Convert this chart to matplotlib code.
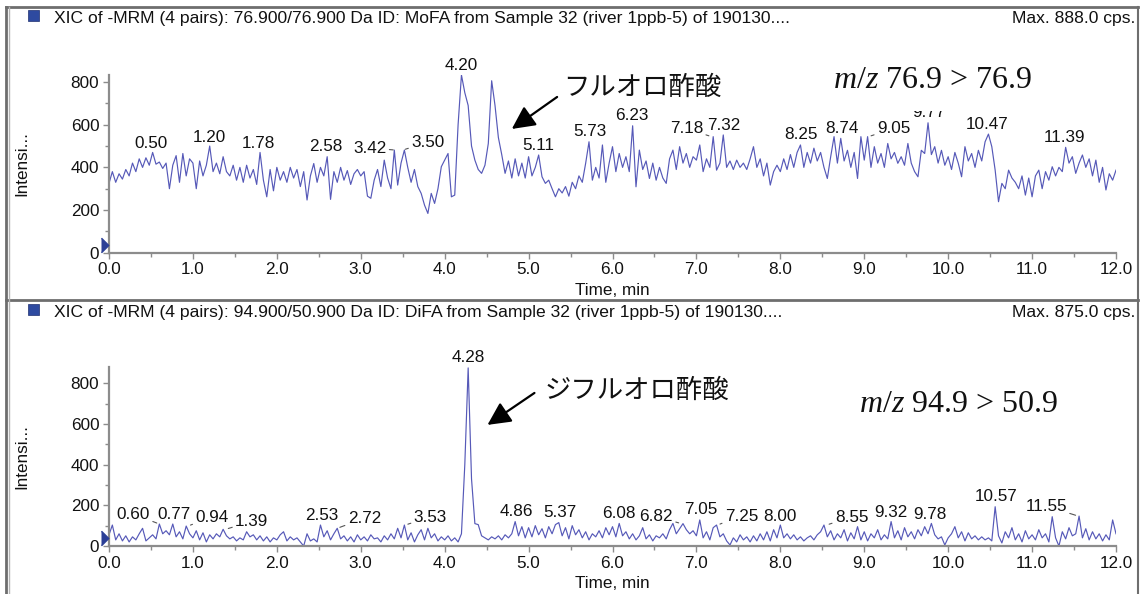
import numpy as np
import matplotlib
matplotlib.use('Agg')
import matplotlib.pyplot as plt
from matplotlib.patches import Rectangle
from matplotlib.lines import Line2D
import matplotlib.transforms as mtransforms

plt.rcParams['font.family'] = ['Liberation Sans', 'DejaVu Sans']
plt.rcParams['mathtext.fontset'] = 'custom'
plt.rcParams['mathtext.rm'] = 'Liberation Serif'
plt.rcParams['mathtext.it'] = 'Liberation Serif:italic'

# ---------------- data ----------------
time_step = 0.04  # min between samples

mofa_intensity = [
    325, 380, 330, 370, 345, 390, 360, 420, 380, 440, 400, 445, 410, 470, 415, 425, 395, 420, 300, 410, 455, 330, 465, 360, 440,
    420, 300, 430, 360, 410, 500, 380, 420, 370, 450, 380, 360, 410, 340, 400, 330, 410, 350, 390, 320, 470, 340, 262, 390, 290,
    400, 340, 380, 330, 400, 350, 390, 310, 380, 247, 360, 418, 330, 400, 360, 450, 250, 380, 330, 400, 340, 385, 320, 370, 390,
    360, 380, 265, 255, 340, 390, 310, 434, 350, 300, 481, 317, 420, 481, 400, 330, 390, 310, 278, 223, 184, 278, 231, 300, 403,
    434, 465, 262, 270, 600, 833, 750, 690, 500, 434, 390, 372, 410, 512, 806, 690, 540, 460, 372, 430, 350, 440, 360, 420, 350,
    450, 360, 400, 458, 356, 325, 340, 300, 262, 300, 280, 310, 265, 330, 300, 360, 330, 419, 520, 340, 400, 350, 505, 330, 420,
    497, 380, 465, 400, 450, 380, 595, 309, 481, 390, 430, 348, 420, 340, 400, 350, 325, 440, 481, 390, 497, 420, 465, 400, 450,
    434, 505, 380, 440, 400, 544, 387, 420, 552, 400, 430, 390, 434, 400, 420, 390, 440, 497, 400, 440, 360, 420, 317, 380, 410,
    380, 440, 390, 460, 400, 470, 505, 400, 470, 420, 490, 430, 470, 400, 348, 450, 544, 420, 536, 430, 480, 400, 470, 348, 544,
    434, 544, 400, 497, 420, 465, 400, 512, 440, 470, 419, 450, 410, 512, 420, 380, 356, 480, 465, 609, 460, 497, 420, 480, 410,
    450, 390, 470, 420, 356, 497, 430, 465, 400, 480, 430, 520, 556, 497, 387, 239, 325, 300, 387, 350, 330, 300, 360, 270, 350,
    262, 360, 387, 300, 380, 340, 403, 360, 400, 380, 494, 420, 450, 372, 420, 458, 400, 440, 360, 434, 330, 400, 294, 370, 340,
    387,
]

difa_intensity = [
    55, 103, 30, 60, 25, 50, 20, 45, 30, 60, 87, 25, 40, 55, 35, 108, 60, 75, 55, 108, 45, 70, 35, 98, 60,
    40, 75, 30, 65, 20, 55, 35, 60, 45, 82, 50, 35, 45, 25, 40, 30, 70, 45, 55, 30, 50, 25, 45, 20, 40,
    30, 55, 70, 25, 45, 30, 40, 20, 0, 60, 25, 35, 20, 103, 45, 75, 30, 60, 87, 35, 50, 25, 45, 20, 55,
    30, 45, 25, 55, 35, 40, 20, 50, 30, 60, 35, 87, 40, 103, 30, 65, 20, 55, 80, 30, 87, 40, 60, 25, 45,
    30, 50, 25, 40, 20, 60, 400, 875, 330, 110, 105, 50, 40, 30, 45, 35, 50, 30, 55, 40, 60, 120, 50, 95, 40,
    90, 45, 100, 55, 85, 40, 95, 60, 105, 115, 50, 90, 35, 100, 55, 80, 40, 70, 30, 60, 45, 75, 40, 90, 55,
    95, 45, 111, 50, 70, 35, 60, 30, 50, 90, 35, 55, 25, 50, 40, 60, 35, 80, 111, 60, 85, 110, 80, 60, 75,
    50, 128, 40, 70, 30, 90, 103, 45, 60, 25, 5, 40, 20, 55, 30, 45, 20, 50, 25, 60, 30, 70, 25, 80, 40,
    103, 40, 60, 35, 55, 30, 45, 25, 40, 50, 30, 55, 70, 103, 45, 75, 30, 60, 40, 80, 25, 65, 35, 95, 30,
    70, 25, 60, 40, 80, 30, 55, 35, 120, 40, 75, 30, 90, 45, 70, 35, 80, 50, 95, 60, 111, 55, 35, 45, 5,
    40, 60, 95, 40, 70, 25, 65, 35, 50, 30, 45, 30, 40, 25, 193, 50, 15, 70, 40, 90, 30, 60, 20, 75, 35,
    55, 30, 80, 40, 60, 20, 144, 40, 0, 70, 35, 90, 50, 60, 147, 40, 85, 30, 70, 35, 60, 25, 55, 30, 128,
    60,
]

mofa_peak_labels = ["0.50", "1.20", "1.78", "2.58", "3.42", "3.50", "4.20", "5.11", "5.73", "6.23",
                    "7.18", "7.32", "8.25", "8.74", "9.05", "9.77", "10.47", "11.39"]
difa_peak_labels = ["0.60", "0.77", "0.94", "1.39", "2.53", "2.72", "3.53", "4.28", "4.86", "5.37",
                    "6.08", "6.82", "7.05", "7.25", "8.00", "8.55", "9.32", "9.78", "10.57", "11.55"]

mofa_title = "XIC of -MRM (4 pairs): 76.900/76.900 Da ID: MoFA from Sample 32 (river 1ppb-5) of 190130...."
difa_title = "XIC of -MRM (4 pairs): 94.900/50.900 Da ID: DiFA from Sample 32 (river 1ppb-5) of 190130...."
mofa_max = "Max. 888.0 cps."
difa_max = "Max. 875.0 cps."
mofa_name = "フルオロ酢酸"
difa_name = "ジフルオロ酢酸"
mofa_mz = r"$\mathit{m/z}$ 76.9 > 76.9"
difa_mz = r"$\mathit{m/z}$ 94.9 > 50.9"
x_ticks = [0, 1, 2, 3, 4, 5, 6, 7, 8, 9, 10, 11, 12]
y_ticks = [0, 200, 400, 600, 800]

# ---------------- layout ----------------
W, H = 1142, 594
fig = plt.figure(figsize=(W / 100, H / 100), dpi=100)

def fx(x):
    return x / W

def fy(y):
    return 1 - y / H

TRACE = '#5659b8'
GRAY = '#8c8c8c'

ax_top = fig.add_axes([fx(109), fy(252.7), fx(1116) - fx(109), (252.7 - 75) / H])
ax_bot = fig.add_axes([fx(109), fy(546), fx(1116) - fx(109), (546 - 367.3) / H])

mofa = np.array(mofa_intensity, dtype=float)
difa = np.array(difa_intensity, dtype=float)
t_mofa = np.arange(len(mofa)) * time_step
t_difa = np.arange(len(difa)) * time_step


def style_axes(ax, ymax):
    ax.set_xlim(0, 12)
    ax.set_ylim(0, ymax)
    for s in ['top', 'right']:
        ax.spines[s].set_visible(False)
    for s in ['left', 'bottom']:
        ax.spines[s].set_color(GRAY)
        ax.spines[s].set_linewidth(1.6)
    ax.set_xticks(x_ticks)
    ax.set_xticklabels([f"{v:.1f}" for v in x_ticks])
    ax.set_xticks(np.arange(0.5, 12, 1.0), minor=True)
    ax.set_yticks(y_ticks)
    ax.set_yticks([100, 300, 500, 700], minor=True)
    ax.tick_params(which='major', length=4, width=1.0, color=GRAY, labelsize=12.3, pad=3, labelcolor='#111111')
    ax.tick_params(which='minor', length=3, width=1.0, color=GRAY)
    ax.set_xlabel("Time, min", fontsize=12.3, labelpad=4, color='#111111')
    ax.set_ylabel("Intensi...", fontsize=12.3, color='#111111')
    ax.yaxis.set_label_coords(-0.079, 0.5)
    ax.patch.set_alpha(0)


def label_peaks(ax, t, v, labels, offsets, leaders):
    for lab in labels:
        tv = float(lab)
        mask = np.abs(t - tv) <= 0.05
        yv = v[mask].max()
        dx, dy = offsets.get(lab, (0, 10))
        kw = {}
        if lab in leaders:
            kw['arrowprops'] = dict(arrowstyle='-', color='#555555', lw=0.8, shrinkA=0, shrinkB=2)
        ax.annotate(lab, xy=(tv, yv), xytext=(dx, dy), textcoords='offset pixels',
                    ha='center', va='center', fontsize=12.3, color='#111111',
                    annotation_clip=False, **kw)


for ax, t, v, ymax in [(ax_top, t_mofa, mofa, 833), (ax_bot, t_difa, difa, 878)]:
    style_axes(ax, ymax)
    ax.plot(t, v, color=TRACE, lw=0.85)
    tri = mtransforms.offset_copy(ax.transData, fig=fig, x=-8, y=0, units='dots')
    ax.plot([0], [38], marker=[(0, -1), (1, 0), (0, 1)], ms=10.5, color='#2b3f96',
            transform=tri, clip_on=False, linestyle='none', zorder=5)

top_offsets = {"3.42": (-26, 2), "3.50": (25, 8), "7.18": (-25, 8), "9.05": (25, 8),
               "0.50": (0, 9), "1.20": (0, 9), "1.78": (0, 9), "5.11": (0, 9), "7.32": (0, 9)}
bot_offsets = {"0.60": (-26, 10), "0.94": (24, 9), "1.39": (26, 8), "2.72": (27, 10),
               "3.53": (25, 8), "6.82": (-25, 7), "7.25": (24, 9), "8.55": (25, 8),
               "11.55": (-32, 10), "8.00": (0, 9), "9.32": (0, 9), "9.78": (0, 9)}
label_peaks(ax_top, t_mofa, mofa, mofa_peak_labels, top_offsets, {"3.42", "3.50", "7.18", "9.05"})
label_peaks(ax_bot, t_difa, difa, difa_peak_labels, bot_offsets,
            {"0.60", "0.94", "1.39", "2.72", "3.53", "6.82", "7.25", "8.55", "11.55"})

# compound name annotations with arrows
arrow_kw = dict(arrowstyle='-|>,head_length=0.7,head_width=0.35', color='black', lw=1.6,
                mutation_scale=20, shrinkA=0, shrinkB=0)
ax_top.annotate('', xy=(4.80, 580), xytext=(5.34, 730), arrowprops=arrow_kw, annotation_clip=False)
ax_bot.annotate('', xy=(4.51, 595), xytext=(5.07, 752), arrowprops=arrow_kw, annotation_clip=False)

fig.text(fx(563), fy(87), mofa_name, fontsize=19, family=['Noto Sans CJK JP', 'DejaVu Sans'],
         ha='left', va='center', color='#111111')
fig.text(fx(545), fy(390), difa_name, fontsize=19, family=['Noto Sans CJK JP', 'DejaVu Sans'],
         ha='left', va='center', color='#111111')

# white box of the pasted m/z label (hides top of 9.77 label)
fig.patches.append(Rectangle((fx(822), fy(111)), fx(1045) - fx(822), (111 - 45) / H,
                             transform=fig.transFigure, facecolor='white', edgecolor='none', zorder=2))
fig.text(fx(833), fy(80), mofa_mz, fontsize=23, family='Liberation Serif', ha='left', va='center',
         color='#111111', zorder=3)
fig.text(fx(859), fy(405), difa_mz, fontsize=23, family='Liberation Serif', ha='left', va='center',
         color='#111111', zorder=3)

# panel headers
for yc, title, mx in [(18, mofa_title, mofa_max), (312, difa_title, difa_max)]:
    fig.patches.append(Rectangle((fx(28), fy(yc + 3)), 11 / W, 11 / H, transform=fig.transFigure,
                                 facecolor='#2e4aa0', edgecolor='#1e2f70', lw=0.5, zorder=2))
    fig.text(fx(54), fy(yc), title, fontsize=12.6, ha='left', va='center', color='#111111')
    fig.text(fx(1135), fy(yc), mx, fontsize=12.6, ha='right', va='center', color='#111111')

# window frame lines
frame = [((6, 1138), (7, 7), '#6e6e6e', 2.0),
         ((6, 1138), (300, 300), '#6e6e6e', 2.0),
         ((6, 6), (7, 594), '#6e6e6e', 2.0),
         ((9, 9), (7, 594), '#b5b5b5', 1.0),
         ((1138, 1138), (7, 594), '#6e6e6e', 1.5)]
for xs, ys, c, lw in frame:
    fig.add_artist(Line2D([fx(xs[0]), fx(xs[1])], [fy(ys[0]), fy(ys[1])],
                          transform=fig.transFigure, color=c, lw=lw))

fig.savefig('out.png', dpi=100, facecolor='white')
